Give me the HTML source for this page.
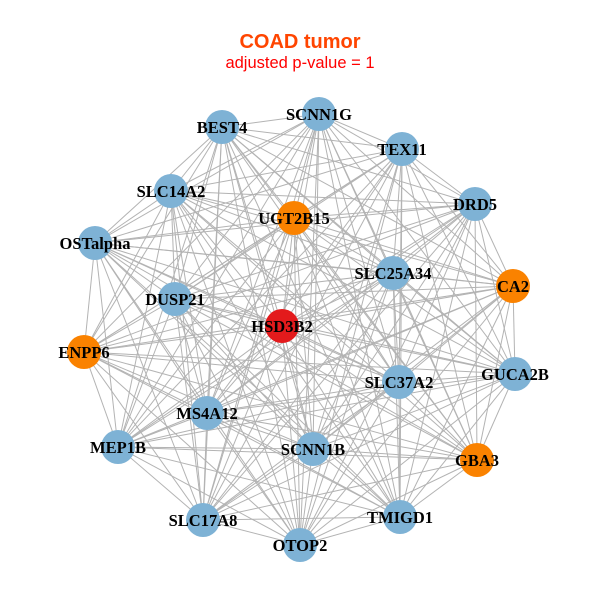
<!DOCTYPE html>
<html><head><meta charset="utf-8"><style>
html,body{margin:0;padding:0;background:#fff;width:600px;height:600px;overflow:hidden}
</style></head><body>
<svg id="s" width="600" height="600" xmlns="http://www.w3.org/2000/svg">
<rect width="600" height="600" fill="#fff"/>
<text x="300" y="48" text-anchor="middle" font-family="Liberation Sans, sans-serif" font-weight="bold" font-size="20" fill="#ff4500">COAD tumor</text>
<text x="300" y="68" text-anchor="middle" font-family="Liberation Sans, sans-serif" font-size="16.5" fill="#ff0000">adjusted p-value = 1</text>
<g id="e" stroke="#b3b3b3" stroke-width="1"></g>
<g id="n"></g>
<g font-family="Liberation Serif, serif" font-weight="bold" font-size="16.5" text-anchor="middle" fill="#000">
<text x="319" y="120">SCNN1G</text>
<text x="222" y="133">BEST4</text>
<text x="402" y="155">TEX11</text>
<text x="171" y="197">SLC14A2</text>
<text x="294" y="224">UGT2B15</text>
<text x="475" y="210">DRD5</text>
<text x="95" y="249">OSTalpha</text>
<text x="393" y="279">SLC25A34</text>
<text x="513" y="292">CA2</text>
<text x="175" y="305">DUSP21</text>
<text x="282" y="332">HSD3B2</text>
<text x="84" y="358">ENPP6</text>
<text x="515" y="380">GUCA2B</text>
<text x="399" y="388">SLC37A2</text>
<text x="207" y="419">MS4A12</text>
<text x="313" y="455">SCNN1B</text>
<text x="118" y="453">MEP1B</text>
<text x="477" y="466">GBA3</text>
<text x="203" y="526">SLC17A8</text>
<text x="400" y="523">TMIGD1</text>
<text x="300" y="551">OTOP2</text>
</g>
</svg>
<script>
var N=[[319,114,'b'],[222,127,'b'],[402,149,'b'],[171,191,'b'],[294,218,'o'],[475,204,'b'],[95,243,'b'],[393,273,'b'],[513,286,'o'],[175,299,'b'],[282,326,'r'],[84,352,'o'],[515,374,'b'],[399,382,'b'],[207,413,'b'],[313,449,'b'],[118,447,'b'],[477,460,'o'],[203,520,'b'],[400,517,'b'],[300,545,'b']];
var C={b:'#7eb2d5',o:'#fa8200',r:'#e31a1c'};
var ns='http://www.w3.org/2000/svg',e=document.getElementById('e'),g=document.getElementById('n');
for(var i=0;i<N.length;i++)for(var j=i+1;j<N.length;j++){
 var l=document.createElementNS(ns,'line');
 l.setAttribute('x1',N[i][0]);l.setAttribute('y1',N[i][1]);l.setAttribute('x2',N[j][0]);l.setAttribute('y2',N[j][1]);e.appendChild(l);}
N.forEach(function(p){var c=document.createElementNS(ns,'circle');c.setAttribute('cx',p[0]);c.setAttribute('cy',p[1]);c.setAttribute('r',17);c.setAttribute('fill',C[p[2]]);g.appendChild(c);});
</script>
</body></html>
